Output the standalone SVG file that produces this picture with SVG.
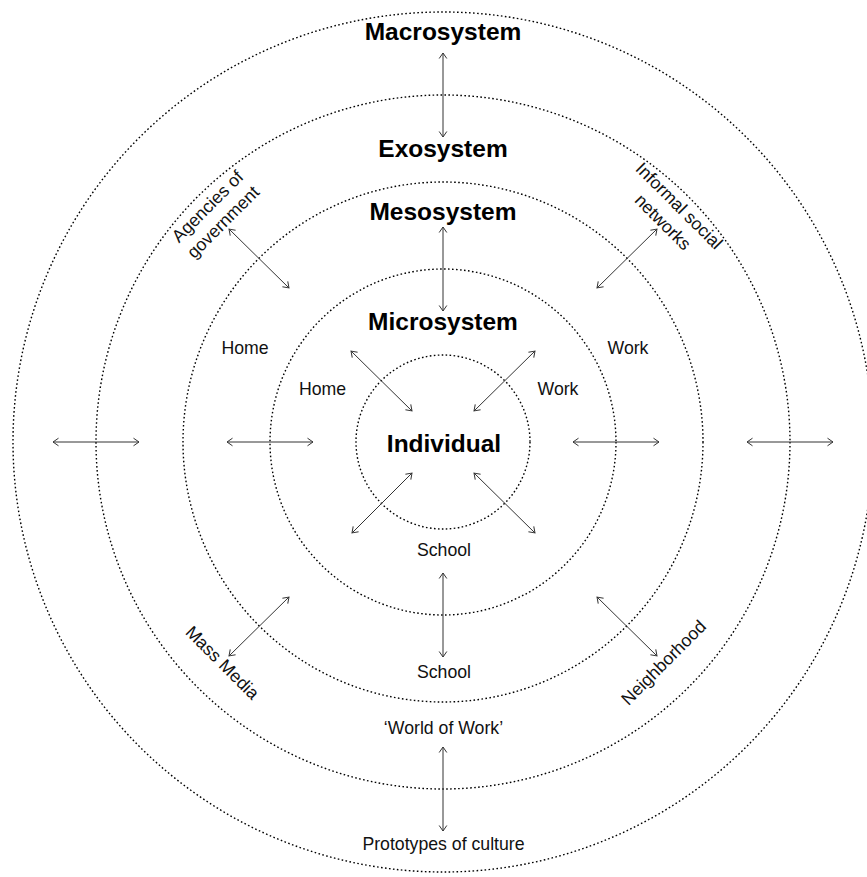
<svg xmlns="http://www.w3.org/2000/svg" width="867" height="877" viewBox="0 0 867 877">
  <style>
    .ring { fill: none; stroke: #000; stroke-width: 1.4; stroke-dasharray: 1.6 2.4; }
    .title { font-family: "Liberation Sans", Arial, sans-serif; font-weight: bold; font-size: 24.5px; fill: #000; text-anchor: middle; }
    .lbl { font-family: "Liberation Sans", Arial, sans-serif; font-size: 17.7px; fill: #111; text-anchor: middle; }
    .arr { fill: none; stroke: #333; stroke-width: 1; marker-start: url(#ah); marker-end: url(#ah); }
  </style>
  <defs>
    <marker id="ah" viewBox="-7 -5 8 10" refX="0" refY="0" markerWidth="8" markerHeight="10" markerUnits="userSpaceOnUse" orient="auto-start-reverse">
      <path d="M-5.5,-3.8 L0,0 L-5.5,3.8" fill="none" stroke="#333" stroke-width="1"/>
    </marker>
  </defs>
  <rect width="867" height="877" fill="#fff"/>

  <g id="macrosystem">
    <circle class="ring" cx="443" cy="442" r="430"/>
    <text class="title" x="443" y="40">Macrosystem</text>
    <text class="lbl" x="443.5" y="850">Prototypes of culture</text>
  </g>
  <g id="exosystem">
    <circle class="ring" cx="443" cy="442" r="347"/>
    <text class="title" x="443" y="157">Exosystem</text>
    <g transform="translate(443,442) rotate(-45)">
      <text class="lbl" x="0" y="-327">Agencies of</text>
      <text class="lbl" x="0" y="-305">government</text>
    </g>
    <g transform="translate(443,442) rotate(45)">
      <text class="lbl" x="0" y="-328">Informal social</text>
      <text class="lbl" x="0" y="-305">networks</text>
    </g>
    <g transform="translate(443,442) rotate(45)">
      <text class="lbl" x="0" y="318">Mass Media</text>
    </g>
    <g transform="translate(443,442) rotate(-45)">
      <text class="lbl" x="0" y="318">Neighborhood</text>
    </g>
    <text class="lbl" x="443.5" y="734">‘World of Work’</text>
  </g>
  <g id="mesosystem">
    <circle class="ring" cx="443" cy="442" r="260"/>
    <text class="title" x="443" y="220">Mesosystem</text>
    <text class="lbl" x="245" y="354">Home</text>
    <text class="lbl" x="628" y="354">Work</text>
    <text class="lbl" x="444" y="678">School</text>
  </g>
  <g id="microsystem">
    <circle class="ring" cx="443" cy="442" r="173"/>
    <text class="title" x="443" y="330">Microsystem</text>
    <text class="lbl" x="322.5" y="395">Home</text>
    <text class="lbl" x="558" y="395">Work</text>
    <text class="lbl" x="444" y="556">School</text>
  </g>
  <g id="individual">
    <circle class="ring" cx="443" cy="442" r="87"/>
    <text class="title" x="444" y="452">Individual</text>
  </g>

  <g id="connectors">
    <line class="arr" x1="443" y1="53" x2="443" y2="137"/>
    <line class="arr" x1="443" y1="227" x2="443" y2="311"/>
    <line class="arr" x1="443" y1="573" x2="443" y2="657"/>
    <line class="arr" x1="443" y1="747" x2="443" y2="831"/>
    <line class="arr" x1="53" y1="442" x2="139" y2="442"/>
    <line class="arr" x1="227" y1="442" x2="313" y2="442"/>
    <line class="arr" x1="573" y1="442" x2="659" y2="442"/>
    <line class="arr" x1="747" y1="442" x2="833" y2="442"/>
    <line class="arr" x1="351" y1="351" x2="412" y2="411"/>
    <line class="arr" x1="535" y1="351" x2="474" y2="411"/>
    <line class="arr" x1="412" y1="473" x2="352" y2="533"/>
    <line class="arr" x1="474" y1="473" x2="535" y2="533"/>
    <line class="arr" x1="229" y1="229" x2="289" y2="288"/>
    <line class="arr" x1="657" y1="229" x2="597" y2="288"/>
    <line class="arr" x1="289" y1="597" x2="229" y2="656"/>
    <line class="arr" x1="597" y1="597" x2="657" y2="656"/>
  </g>
</svg>
